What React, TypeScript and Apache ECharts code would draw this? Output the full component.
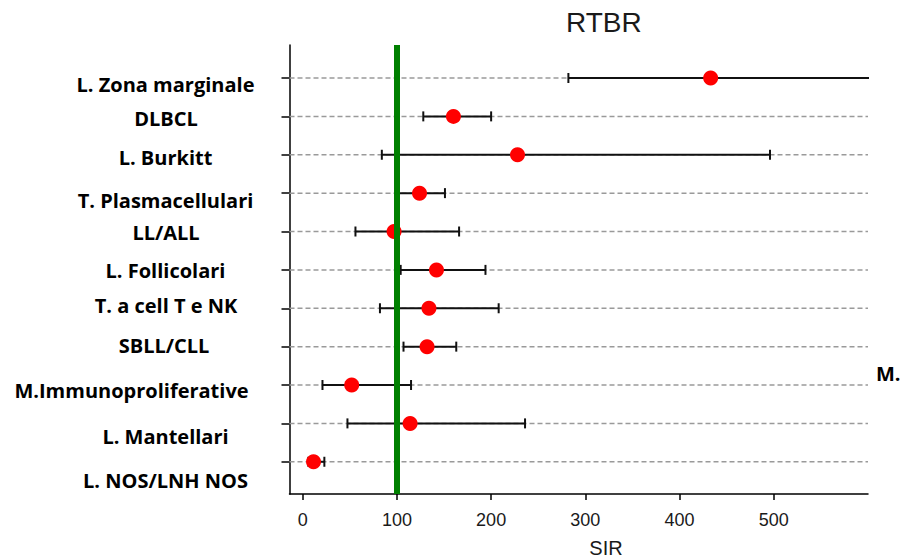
import React, { useEffect, useRef } from "react";
import * as echarts from "echarts";

const categories = [
  "L. Zona marginale",
  "DLBCL",
  "L. Burkitt",
  "T. Plasmacellulari",
  "LL/ALL",
  "L. Follicolari",
  "T. a cell T e NK",
  "SBLL/CLL",
  "M.Immunoproliferative",
  "L. Mantellari",
  "L. NOS/LNH NOS",
];
const sirValues = [433, 160, 228, 124, 97, 142, 134, 132, 52, 114, 11.5];
const lowerCI = [282, 128, 84, 102, 56, 104, 82, 107, 21, 47.5, 6];
const upperCI = [700, 200, 496, 151, 166, 194, 208, 163, 115, 236, 23];
const xTicks = [0, 100, 200, 300, 400, 500];
const referenceValue = 100;
const titleText = "RTBR";
const xAxisName = "SIR";
const sideNote = "M.";

const X_MIN = -14;
const X_MAX = 600;
const Y_MIN = 0.14;
const Y_MAX = 11.84;

// label placement (center x, center y)
const labelPos: [number, number][] = [
  [165.5, 84],
  [166, 118],
  [165.5, 157],
  [165.5, 200],
  [166, 232.5],
  [165.5, 270.5],
  [166, 305.5],
  [164, 345.5],
  [131.5, 390],
  [165.5, 436.5],
  [165.5, 480],
];

export default function App() {
  const ref = useRef<HTMLDivElement>(null);
  useEffect(() => {
    if (!ref.current) return;
    const chart = echarts.init(ref.current, null, { renderer: "svg" });
    const rows = categories.map((_, i) => i + 1);

    const option: any = {
      animation: false,
      backgroundColor: "#ffffff",
      grid: { left: 289.5, right: 33, top: 45, bottom: 65, containLabel: false },
      xAxis: {
        type: "value",
        min: X_MIN,
        max: X_MAX,
        axisLine: { show: true, lineStyle: { color: "#000", width: 1.5 } },
        axisTick: {
          show: true,
          customValues: xTicks,
          length: 6,
          lineStyle: { color: "#000", width: 1.5 },
        },
        axisLabel: {
          customValues: xTicks,
          fontSize: 18,
          fontFamily: "Liberation Sans",
          color: "#1a1a1a",
          margin: 17,
        },
        splitLine: { show: false },
      },
      yAxis: {
        type: "value",
        inverse: true,
        min: Y_MIN,
        max: Y_MAX,
        axisLine: { show: true, onZero: false, lineStyle: { color: "#000", width: 1.5 } },
        axisTick: {
          show: true,
          customValues: rows,
          length: 8,
          lineStyle: { color: "#000", width: 1.5 },
        },
        axisLabel: { show: false, customValues: rows },
        splitLine: { show: false },
      },
      graphic: [
        {
          type: "text",
          left: 606 - 40,
          top: 8,
          style: {
            text: titleText,
            font: "28px 'Liberation Sans'",
            fill: "#1a1a1a",
          },
        },
        {
          type: "text",
          x: 606,
          y: 548,
          style: {
            text: xAxisName,
            font: "20px 'Liberation Sans'",
            fill: "#1a1a1a",
            textAlign: "center",
            textVerticalAlign: "middle",
          },
        },
        ...categories.map((c, i) => ({
          type: "text",
          x: labelPos[i][0],
          y: labelPos[i][1],
          style: {
            text: c,
            font: "bold 20px 'Open Sans'",
            fill: "#000",
            textAlign: "center",
            textVerticalAlign: "middle",
          },
        })),
        {
          type: "text",
          x: 876,
          y: 373,
          style: {
            text: sideNote,
            font: "bold 20px 'Open Sans'",
            fill: "#000",
            textAlign: "left",
            textVerticalAlign: "middle",
          },
        },
      ],
      series: [
        {
          type: "custom",
          name: "grid",
          z: 1,
          silent: true,
          clip: true,
          data: rows.map((r) => [r]),
          encode: { y: 0 },
          renderItem: (params: any, api: any) => {
            const r = api.value(0);
            const a = api.coord([X_MIN, r]);
            const b = api.coord([X_MAX, r]);
            return {
              type: "line",
              shape: { x1: a[0], y1: a[1], x2: b[0], y2: b[1] },
              style: { stroke: "#9a9a9a", lineWidth: 1.5, lineDash: [5, 3] },
            };
          },
        },
        {
          type: "custom",
          name: "ci",
          z: 2,
          silent: true,
          clip: true,
          data: rows.map((r, i) => [lowerCI[i], r, upperCI[i]]),
          encode: { x: [0, 2], y: 1 },
          renderItem: (params: any, api: any) => {
            const lo = api.value(0);
            const r = api.value(1);
            const hi = api.value(2);
            const a = api.coord([lo, r]);
            const b = api.coord([hi, r]);
            const h = 5;
            return {
              type: "group",
              children: [
                {
                  type: "line",
                  shape: { x1: a[0], y1: a[1], x2: b[0], y2: b[1] },
                  style: { stroke: "#111", lineWidth: 2 },
                },
                {
                  type: "line",
                  shape: { x1: a[0], y1: a[1] - h, x2: a[0], y2: a[1] + h },
                  style: { stroke: "#111", lineWidth: 2 },
                },
                {
                  type: "line",
                  shape: { x1: b[0], y1: b[1] - h, x2: b[0], y2: b[1] + h },
                  style: { stroke: "#111", lineWidth: 2 },
                },
              ],
            };
          },
        },
        {
          type: "line",
          name: "ref",
          z: 3,
          data: [],
          markLine: {
            silent: true,
            symbol: "none",
            label: { show: false },
            lineStyle: { color: "#008000", width: 6, type: "solid" },
            data: [{ xAxis: referenceValue }],
          },
        },
        {
          type: "scatter",
          name: "SIR",
          z: 4,
          symbol: "circle",
          symbolSize: 15,
          itemStyle: { color: "#ff0000", opacity: 1 },
          data: rows.map((r, i) => [sirValues[i], r]),
        },
      ],
    };
    chart.setOption(option);
    return () => chart.dispose();
  }, []);
  return <div ref={ref} style={{ width: 901, height: 559, position: "absolute", left: 0, top: 0 }} />;
}
